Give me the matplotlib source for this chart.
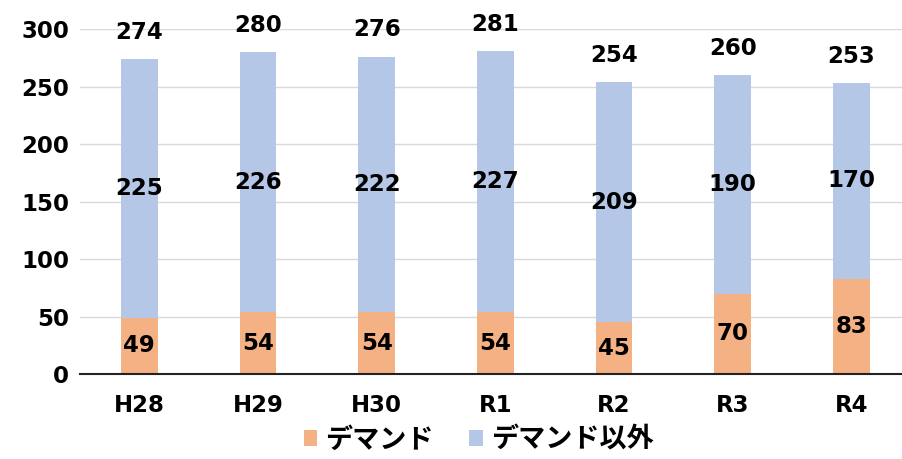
import matplotlib.pyplot as plt
import numpy as np

plt.rcParams['font.family'] = ['DejaVu Sans', 'Noto Sans CJK JP']

years = ['H28', 'H29', 'H30', 'R1', 'R2', 'R3', 'R4']
demand = [49, 54, 54, 54, 45, 70, 83]
other = [225, 226, 222, 227, 209, 190, 170]
totals = [274, 280, 276, 281, 254, 260, 253]

c_demand = '#F4B183'
c_other = '#B4C7E7'


def main():
    fig = plt.figure(figsize=(9.03, 4.59), dpi=100)
    ax = fig.add_axes([0.0886, 0.185, 0.92, 0.7516])

    x = np.arange(len(years))
    w = 0.31
    b1 = ax.bar(x, demand, w, color=c_demand, label='デマンド', zorder=2)
    b2 = ax.bar(x, other, w, bottom=demand, color=c_other, label='デマンド以外', zorder=2)

    fs = 16.5
    fw = 'bold'
    for i in range(len(years)):
        ax.text(x[i], demand[i] / 2, str(demand[i]), ha='center', va='center',
                fontsize=fs, fontweight=fw, zorder=3)
        ax.text(x[i], demand[i] + other[i] / 2, str(other[i]), ha='center', va='center',
                fontsize=fs, fontweight=fw, zorder=3)
        ax.annotate(str(totals[i]), (x[i], demand[i] + other[i]), xytext=(0, 11),
                    textcoords='offset points', ha='center', va='bottom',
                    fontsize=fs, fontweight=fw, annotation_clip=False)

    ax.set_ylim(0, 300)
    ax.set_xlim(-0.5, 6.5)
    ax.set_yticks(range(0, 301, 50))
    ax.set_xticks(x)
    ax.set_xticklabels(years)
    ax.tick_params(axis='both', length=0, labelsize=fs)
    ax.tick_params(axis='x', pad=14)
    ax.tick_params(axis='y', pad=8)
    for lab in ax.get_xticklabels() + ax.get_yticklabels():
        lab.set_fontweight(fw)
    ax.yaxis.grid(True, color='#D9D9D9', linewidth=1, zorder=0)
    ax.set_axisbelow(True)
    for s in ['top', 'right', 'left']:
        ax.spines[s].set_visible(False)
    ax.spines['bottom'].set_color('#222222')
    ax.spines['bottom'].set_linewidth(1.5)
    ax.spines['bottom'].set_zorder(4)

    leg = fig.legend(handles=[b1, b2], loc='center', bbox_to_anchor=(0.53, 0.04), ncol=2,
                     frameon=False, fontsize=19.5, handlelength=0.5, handleheight=0.5,
                     handletextpad=0.3, columnspacing=1.3)
    for t in leg.get_texts():
        t.set_fontweight(fw)

    fig.savefig('out.png', dpi=100)


if __name__ == '__main__':
    main()
